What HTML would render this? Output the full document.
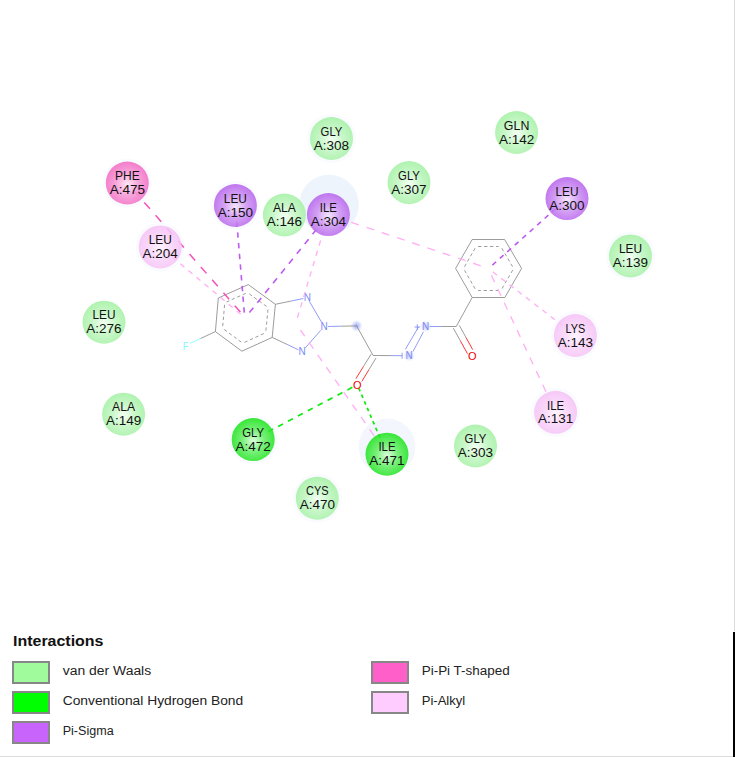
<!DOCTYPE html>
<html><head><meta charset="utf-8"><style>
html,body{margin:0;padding:0;background:#fff;}
svg{display:block;}
text{font-family:"Liberation Sans",sans-serif;}
</style></head><body>
<svg width="735" height="757" viewBox="0 0 735 757">
<defs>
<radialGradient id="g_vdw" cx="50%" cy="53%" r="52%"><stop offset="0" stop-color="#f2fff2"/><stop offset="0.5" stop-color="#c2f6c2"/><stop offset="1" stop-color="#a4f1a4"/></radialGradient>
<radialGradient id="g_hb" cx="50%" cy="53%" r="52%"><stop offset="0" stop-color="#d8ffd8"/><stop offset="0.5" stop-color="#65ee65"/><stop offset="1" stop-color="#1ee41e"/></radialGradient>
<radialGradient id="g_pisig" cx="50%" cy="53%" r="52%"><stop offset="0" stop-color="#f4e4fd"/><stop offset="0.5" stop-color="#cf95f2"/><stop offset="1" stop-color="#b865ec"/></radialGradient>
<radialGradient id="g_pipit" cx="50%" cy="53%" r="52%"><stop offset="0" stop-color="#ffe4f4"/><stop offset="0.5" stop-color="#f79ad6"/><stop offset="1" stop-color="#f26cc4"/></radialGradient>
<radialGradient id="g_pialk" cx="50%" cy="53%" r="52%"><stop offset="0" stop-color="#fff4ff"/><stop offset="0.5" stop-color="#f9d5f9"/><stop offset="1" stop-color="#f6c2f6"/></radialGradient>
<radialGradient id="glow"><stop offset="0" stop-color="#8f9cf5" stop-opacity="0.9"/><stop offset="1" stop-color="#aab4f8" stop-opacity="0"/></radialGradient>
<linearGradient id="ftext"></linearGradient>
</defs>
<rect x="0" y="0" width="735" height="757" fill="#fff"/>
<circle cx="329" cy="204.6" r="29.8" fill="#eef4fc"/>
<circle cx="387" cy="446.8" r="28.3" fill="#f3f6fd"/>
<circle cx="331.5" cy="138.5" r="24.5" fill="#fafbfe"/>
<circle cx="127.3" cy="183.0" r="24.5" fill="#fafbfe"/>
<circle cx="235.4" cy="205.5" r="24.5" fill="#fafbfe"/>
<circle cx="160.2" cy="246.9" r="24.5" fill="#fafbfe"/>
<circle cx="630.5" cy="255.9" r="24.5" fill="#fafbfe"/>
<circle cx="575.4" cy="335.5" r="24.5" fill="#fafbfe"/>
<circle cx="555.6" cy="412.3" r="24.5" fill="#fafbfe"/>
<circle cx="253.2" cy="439.6" r="24.5" fill="#fafbfe"/>
<circle cx="317.3" cy="498.2" r="24.5" fill="#fafbfe"/>
<g id="mol"><circle cx="356.6" cy="325.9" r="6" fill="url(#glow)"/><circle cx="409.2" cy="355.8" r="6" fill="url(#glow)" opacity="0.6"/><circle cx="425.7" cy="326.5" r="6" fill="url(#glow)" opacity="0.6"/><line x1="248.3" y1="284.6" x2="218.3" y2="298.0" stroke="#8a8a8a" stroke-width="0.85"/><line x1="218.3" y1="298.0" x2="215.4" y2="331.6" stroke="#8a8a8a" stroke-width="0.85"/><line x1="215.4" y1="331.6" x2="241.9" y2="351.2" stroke="#8a8a8a" stroke-width="0.85"/><line x1="241.9" y1="351.2" x2="272.2" y2="337.4" stroke="#8a8a8a" stroke-width="0.85"/><line x1="272.2" y1="337.4" x2="275.4" y2="304.3" stroke="#8a8a8a" stroke-width="0.85"/><line x1="275.4" y1="304.3" x2="248.3" y2="284.6" stroke="#8a8a8a" stroke-width="0.85"/><line x1="245.7" y1="293.4" x2="226.6" y2="301.9" stroke="#8a8a8a" stroke-width="0.85" stroke-dasharray="3.3 2.7"/><line x1="224.6" y1="304.8" x2="222.7" y2="326.3" stroke="#8a8a8a" stroke-width="0.85" stroke-dasharray="3.3 2.7"/><line x1="224.2" y1="329.5" x2="241.1" y2="342.0" stroke="#8a8a8a" stroke-width="0.85" stroke-dasharray="3.3 2.7"/><line x1="244.5" y1="342.4" x2="263.9" y2="333.5" stroke="#8a8a8a" stroke-width="0.85" stroke-dasharray="3.3 2.7"/><line x1="265.9" y1="330.7" x2="268.0" y2="309.5" stroke="#8a8a8a" stroke-width="0.85" stroke-dasharray="3.3 2.7"/><line x1="266.5" y1="306.4" x2="249.2" y2="293.8" stroke="#8a8a8a" stroke-width="0.85" stroke-dasharray="3.3 2.7"/><line x1="472.2" y1="239.5" x2="504.6" y2="239.5" stroke="#8a8a8a" stroke-width="0.85"/><line x1="504.6" y1="239.5" x2="521.6" y2="268.4" stroke="#8a8a8a" stroke-width="0.85"/><line x1="521.6" y1="268.4" x2="504.8" y2="297.5" stroke="#8a8a8a" stroke-width="0.85"/><line x1="504.8" y1="297.5" x2="472.2" y2="297.5" stroke="#8a8a8a" stroke-width="0.85"/><line x1="472.2" y1="297.5" x2="455.6" y2="268.4" stroke="#8a8a8a" stroke-width="0.85"/><line x1="455.6" y1="268.4" x2="472.2" y2="239.5" stroke="#8a8a8a" stroke-width="0.85"/><line x1="478.1" y1="246.5" x2="498.7" y2="246.5" stroke="#8a8a8a" stroke-width="0.85" stroke-dasharray="3.3 2.7"/><line x1="501.8" y1="248.2" x2="512.6" y2="266.7" stroke="#8a8a8a" stroke-width="0.85" stroke-dasharray="3.3 2.7"/><line x1="512.7" y1="270.1" x2="501.9" y2="288.8" stroke="#8a8a8a" stroke-width="0.85" stroke-dasharray="3.3 2.7"/><line x1="498.9" y1="290.5" x2="478.1" y2="290.5" stroke="#8a8a8a" stroke-width="0.85" stroke-dasharray="3.3 2.7"/><line x1="475.1" y1="288.8" x2="464.5" y2="270.2" stroke="#8a8a8a" stroke-width="0.85" stroke-dasharray="3.3 2.7"/><line x1="464.5" y1="266.7" x2="475.1" y2="248.2" stroke="#8a8a8a" stroke-width="0.85" stroke-dasharray="3.3 2.7"/><line x1="215.4" y1="331.6" x2="200.4" y2="338.6" stroke="#8a8a8a" stroke-width="0.85"/><line x1="200.4" y1="338.6" x2="190.0" y2="343.4" stroke="#80ffff" stroke-width="0.85"/><line x1="275.4" y1="304.3" x2="291.4" y2="301.0" stroke="#8a8a8a" stroke-width="0.85"/><line x1="291.4" y1="301.0" x2="303.4" y2="298.5" stroke="#7b8af5" stroke-width="0.85"/><line x1="309.3" y1="301.2" x2="321.6" y2="322.3" stroke="#7b8af5" stroke-width="0.85"/><line x1="320.8" y1="330.3" x2="305.3" y2="347.8" stroke="#7b8af5" stroke-width="0.85"/><line x1="298.4" y1="349.8" x2="287.1" y2="344.4" stroke="#7b8af5" stroke-width="0.85"/><line x1="287.1" y1="344.4" x2="272.2" y2="337.4" stroke="#8a8a8a" stroke-width="0.85"/><line x1="328.1" y1="326.5" x2="340.4" y2="326.2" stroke="#7b8af5" stroke-width="0.85"/><line x1="340.4" y1="326.2" x2="356.6" y2="325.9" stroke="#8a8a8a" stroke-width="0.85"/><line x1="356.6" y1="325.9" x2="373.1" y2="355.5" stroke="#8a8a8a" stroke-width="0.85"/><line x1="373.1" y1="355.5" x2="391.1" y2="355.6" stroke="#8a8a8a" stroke-width="0.85"/><line x1="391.1" y1="355.6" x2="402.2" y2="355.7" stroke="#7b8af5" stroke-width="0.85"/><line x1="429.7" y1="326.5" x2="440.9" y2="326.5" stroke="#7b8af5" stroke-width="0.85"/><line x1="440.9" y1="326.5" x2="456.2" y2="326.5" stroke="#8a8a8a" stroke-width="0.85"/><line x1="456.2" y1="326.5" x2="472.2" y2="297.5" stroke="#8a8a8a" stroke-width="0.85"/><line x1="371.1" y1="354.2" x2="363.5" y2="366.4" stroke="#8a8a8a" stroke-width="0.85"/><line x1="363.5" y1="366.4" x2="355.9" y2="378.7" stroke="#ff1010" stroke-width="0.85"/><line x1="376.0" y1="358.0" x2="368.9" y2="369.7" stroke="#8a8a8a" stroke-width="0.85"/><line x1="368.9" y1="369.7" x2="361.9" y2="381.4" stroke="#ff1010" stroke-width="0.85"/><line x1="453.3" y1="328.1" x2="460.4" y2="340.9" stroke="#8a8a8a" stroke-width="0.85"/><line x1="460.4" y1="340.9" x2="467.5" y2="353.7" stroke="#ff1010" stroke-width="0.85"/><line x1="459.3" y1="325.4" x2="466.0" y2="337.5" stroke="#8a8a8a" stroke-width="0.85"/><line x1="466.0" y1="337.5" x2="472.7" y2="349.6" stroke="#ff1010" stroke-width="0.85"/><line x1="405.4" y1="349.3" x2="418.5" y2="327.0" stroke="#7b8af5" stroke-width="0.85"/><line x1="413.0" y1="351.5" x2="423.4" y2="331.9" stroke="#7b8af5" stroke-width="0.85"/><line x1="402.1" y1="352.8" x2="402.1" y2="358.8" stroke="#7b8af5" stroke-width="0.85"/><line x1="414.5" y1="327.0" x2="420.0" y2="327.0" stroke="#7b8af5" stroke-width="0.85"/><line x1="417.3" y1="324.2" x2="417.3" y2="329.8" stroke="#7b8af5" stroke-width="0.85"/><text x="307.3" y="301.3" font-size="10" text-anchor="middle" fill="#7b8af5">N</text><text x="324.1" y="330.2" font-size="10" text-anchor="middle" fill="#7b8af5">N</text><text x="302.0" y="355.1" font-size="10" text-anchor="middle" fill="#7b8af5">N</text><text x="409.2" y="359.4" font-size="10" text-anchor="middle" fill="#7b8af5">N</text><text x="425.7" y="330.1" font-size="10" text-anchor="middle" fill="#7b8af5">N</text></g>
<line x1="240.4" y1="312.1" x2="127.3" y2="183.0" stroke="#f452ba" stroke-width="1.5" stroke-dasharray="8.58 8.58" stroke-dashoffset="0.00"/>
<line x1="240.7" y1="314.3" x2="160.2" y2="246.9" stroke="#ffb0f4" stroke-width="1.35" stroke-dasharray="5.25 5.25" stroke-dashoffset="0.00"/>
<line x1="244.3" y1="312.6" x2="235.4" y2="205.5" stroke="#bd5af0" stroke-width="1.6" stroke-dasharray="5.37 5.37" stroke-dashoffset="0.00"/>
<line x1="249.4" y1="312.6" x2="328.4" y2="214.6" stroke="#bd5af0" stroke-width="1.6" stroke-dasharray="6.29 6.29" stroke-dashoffset="0.00"/>
<line x1="297.4" y1="317.7" x2="328.4" y2="214.6" stroke="#ffb0f4" stroke-width="1.35" stroke-dasharray="5.38 5.38" stroke-dashoffset="0.00"/>
<line x1="480.8" y1="265.8" x2="328.4" y2="214.6" stroke="#ffb0f4" stroke-width="1.35" stroke-dasharray="8.04 8.04" stroke-dashoffset="0.00"/>
<line x1="300.4" y1="330.0" x2="387.0" y2="454.2" stroke="#ffb0f4" stroke-width="1.35" stroke-dasharray="7.57 7.57" stroke-dashoffset="0.00"/>
<line x1="492.4" y1="265.1" x2="567.0" y2="198.6" stroke="#bd5af0" stroke-width="1.6" stroke-dasharray="5.00 5.00" stroke-dashoffset="0.00"/>
<line x1="493.0" y1="272.0" x2="575.4" y2="335.5" stroke="#ffb0f4" stroke-width="1.35" stroke-dasharray="5.20 5.20" stroke-dashoffset="0.00"/>
<line x1="491.4" y1="275.3" x2="555.6" y2="412.3" stroke="#ffb0f4" stroke-width="1.35" stroke-dasharray="7.56 7.56" stroke-dashoffset="0.00"/>
<line x1="357.3" y1="384.7" x2="253.2" y2="439.6" stroke="#10ea10" stroke-width="1.7" stroke-dasharray="5.60 5.60" stroke-dashoffset="5.60"/>
<line x1="357.3" y1="384.7" x2="387.0" y2="454.2" stroke="#10ea10" stroke-width="1.7" stroke-dasharray="3.60 3.60" stroke-dashoffset="3.60"/>
<text x="357.2" y="389.0" font-size="11" text-anchor="middle" fill="#ee0000">O</text><text x="472.4" y="359.8" font-size="11" text-anchor="middle" fill="#ee0000">O</text><text x="185.5" y="349.5" font-size="11" text-anchor="middle" fill="#80f6ff" textLength="5.6" lengthAdjust="spacingAndGlyphs">F</text>
<circle cx="331.5" cy="138.5" r="21.5" fill="url(#g_vdw)" fill-opacity="0.88"/>
<text x="331.5" y="135.7" font-size="13" text-anchor="middle" fill="#111" textLength="21.83" lengthAdjust="spacingAndGlyphs">GLY</text>
<text x="331.5" y="149.6" font-size="13" text-anchor="middle" fill="#111" textLength="35.3" lengthAdjust="spacingAndGlyphs">A:308</text>
<circle cx="516.6" cy="132.5" r="21.5" fill="url(#g_vdw)" fill-opacity="0.88"/>
<text x="516.6" y="129.7" font-size="13" text-anchor="middle" fill="#111" textLength="25.5" lengthAdjust="spacingAndGlyphs">GLN</text>
<text x="516.6" y="143.6" font-size="13" text-anchor="middle" fill="#111" textLength="35.3" lengthAdjust="spacingAndGlyphs">A:142</text>
<circle cx="127.3" cy="183.0" r="21.5" fill="url(#g_pipit)" fill-opacity="0.88"/>
<text x="127.3" y="180.2" font-size="13" text-anchor="middle" fill="#111" textLength="24.71" lengthAdjust="spacingAndGlyphs">PHE</text>
<text x="127.3" y="194.1" font-size="13" text-anchor="middle" fill="#111" textLength="35.3" lengthAdjust="spacingAndGlyphs">A:475</text>
<circle cx="409.0" cy="182.6" r="21.5" fill="url(#g_vdw)" fill-opacity="0.88"/>
<text x="409.0" y="179.8" font-size="13" text-anchor="middle" fill="#111" textLength="21.83" lengthAdjust="spacingAndGlyphs">GLY</text>
<text x="409.0" y="193.7" font-size="13" text-anchor="middle" fill="#111" textLength="35.3" lengthAdjust="spacingAndGlyphs">A:307</text>
<circle cx="235.4" cy="205.5" r="21.5" fill="url(#g_pisig)" fill-opacity="0.88"/>
<text x="235.4" y="202.7" font-size="13" text-anchor="middle" fill="#111" textLength="23.06" lengthAdjust="spacingAndGlyphs">LEU</text>
<text x="235.4" y="216.6" font-size="13" text-anchor="middle" fill="#111" textLength="35.3" lengthAdjust="spacingAndGlyphs">A:150</text>
<circle cx="284.4" cy="215.0" r="21.5" fill="url(#g_vdw)" fill-opacity="0.88"/>
<text x="284.4" y="212.2" font-size="13" text-anchor="middle" fill="#111" textLength="22.97" lengthAdjust="spacingAndGlyphs">ALA</text>
<text x="284.4" y="226.1" font-size="13" text-anchor="middle" fill="#111" textLength="35.3" lengthAdjust="spacingAndGlyphs">A:146</text>
<circle cx="328.4" cy="214.6" r="21.5" fill="url(#g_pisig)" fill-opacity="0.88"/>
<text x="328.4" y="211.8" font-size="13" text-anchor="middle" fill="#111" textLength="17.15" lengthAdjust="spacingAndGlyphs">ILE</text>
<text x="328.4" y="225.7" font-size="13" text-anchor="middle" fill="#111" textLength="35.3" lengthAdjust="spacingAndGlyphs">A:304</text>
<circle cx="567.0" cy="198.6" r="21.5" fill="url(#g_pisig)" fill-opacity="0.88"/>
<text x="567.0" y="195.8" font-size="13" text-anchor="middle" fill="#111" textLength="23.06" lengthAdjust="spacingAndGlyphs">LEU</text>
<text x="567.0" y="209.7" font-size="13" text-anchor="middle" fill="#111" textLength="35.3" lengthAdjust="spacingAndGlyphs">A:300</text>
<circle cx="160.2" cy="246.9" r="21.5" fill="url(#g_pialk)" fill-opacity="0.88"/>
<text x="160.2" y="244.1" font-size="13" text-anchor="middle" fill="#111" textLength="23.06" lengthAdjust="spacingAndGlyphs">LEU</text>
<text x="160.2" y="258.0" font-size="13" text-anchor="middle" fill="#111" textLength="35.3" lengthAdjust="spacingAndGlyphs">A:204</text>
<circle cx="630.5" cy="255.9" r="21.5" fill="url(#g_vdw)" fill-opacity="0.88"/>
<text x="630.5" y="253.1" font-size="13" text-anchor="middle" fill="#111" textLength="23.06" lengthAdjust="spacingAndGlyphs">LEU</text>
<text x="630.5" y="267.0" font-size="13" text-anchor="middle" fill="#111" textLength="35.3" lengthAdjust="spacingAndGlyphs">A:139</text>
<circle cx="104.0" cy="322.2" r="21.5" fill="url(#g_vdw)" fill-opacity="0.88"/>
<text x="104.0" y="319.4" font-size="13" text-anchor="middle" fill="#111" textLength="23.06" lengthAdjust="spacingAndGlyphs">LEU</text>
<text x="104.0" y="333.3" font-size="13" text-anchor="middle" fill="#111" textLength="35.3" lengthAdjust="spacingAndGlyphs">A:276</text>
<circle cx="575.4" cy="335.5" r="21.5" fill="url(#g_pialk)" fill-opacity="0.88"/>
<text x="575.4" y="332.7" font-size="13" text-anchor="middle" fill="#111" textLength="19.68" lengthAdjust="spacingAndGlyphs">LYS</text>
<text x="575.4" y="346.6" font-size="13" text-anchor="middle" fill="#111" textLength="35.3" lengthAdjust="spacingAndGlyphs">A:143</text>
<circle cx="123.6" cy="414.2" r="21.5" fill="url(#g_vdw)" fill-opacity="0.88"/>
<text x="123.6" y="411.4" font-size="13" text-anchor="middle" fill="#111" textLength="22.97" lengthAdjust="spacingAndGlyphs">ALA</text>
<text x="123.6" y="425.3" font-size="13" text-anchor="middle" fill="#111" textLength="35.3" lengthAdjust="spacingAndGlyphs">A:149</text>
<circle cx="555.6" cy="412.3" r="21.5" fill="url(#g_pialk)" fill-opacity="0.88"/>
<text x="555.6" y="409.5" font-size="13" text-anchor="middle" fill="#111" textLength="17.15" lengthAdjust="spacingAndGlyphs">ILE</text>
<text x="555.6" y="423.4" font-size="13" text-anchor="middle" fill="#111" textLength="35.3" lengthAdjust="spacingAndGlyphs">A:131</text>
<circle cx="253.2" cy="439.6" r="21.5" fill="url(#g_hb)" fill-opacity="0.88"/>
<text x="253.2" y="436.8" font-size="13" text-anchor="middle" fill="#111" textLength="21.83" lengthAdjust="spacingAndGlyphs">GLY</text>
<text x="253.2" y="450.7" font-size="13" text-anchor="middle" fill="#111" textLength="35.3" lengthAdjust="spacingAndGlyphs">A:472</text>
<circle cx="387.0" cy="454.2" r="21.5" fill="url(#g_hb)" fill-opacity="0.88"/>
<text x="387.0" y="451.4" font-size="13" text-anchor="middle" fill="#111" textLength="17.15" lengthAdjust="spacingAndGlyphs">ILE</text>
<text x="387.0" y="465.3" font-size="13" text-anchor="middle" fill="#111" textLength="35.3" lengthAdjust="spacingAndGlyphs">A:471</text>
<circle cx="475.5" cy="446.0" r="21.5" fill="url(#g_vdw)" fill-opacity="0.88"/>
<text x="475.5" y="443.2" font-size="13" text-anchor="middle" fill="#111" textLength="21.83" lengthAdjust="spacingAndGlyphs">GLY</text>
<text x="475.5" y="457.1" font-size="13" text-anchor="middle" fill="#111" textLength="35.3" lengthAdjust="spacingAndGlyphs">A:303</text>
<circle cx="317.3" cy="498.2" r="21.5" fill="url(#g_vdw)" fill-opacity="0.88"/>
<text x="317.3" y="495.4" font-size="13" text-anchor="middle" fill="#111" textLength="22.58" lengthAdjust="spacingAndGlyphs">CYS</text>
<text x="317.3" y="509.3" font-size="13" text-anchor="middle" fill="#111" textLength="35.3" lengthAdjust="spacingAndGlyphs">A:470</text>
<text x="13" y="646" font-size="14" font-weight="bold" fill="#111" textLength="90.5" lengthAdjust="spacingAndGlyphs">Interactions</text>
<rect x="13" y="662" width="36" height="21" fill="#9ffb9c" stroke="#878787" stroke-width="2"/>
<text x="62.7" y="674.6" font-size="13.7" fill="#222" textLength="88.5" lengthAdjust="spacingAndGlyphs">van der Waals</text>
<rect x="13" y="692" width="36" height="21" fill="#00ff00" stroke="#878787" stroke-width="2"/>
<text x="62.7" y="704.6" font-size="13.7" fill="#222" textLength="180.5" lengthAdjust="spacingAndGlyphs">Conventional Hydrogen Bond</text>
<rect x="13" y="722" width="36" height="21" fill="#c864fb" stroke="#878787" stroke-width="2"/>
<text x="62.7" y="734.6" font-size="13.7" fill="#222" textLength="51" lengthAdjust="spacingAndGlyphs">Pi-Sigma</text>
<rect x="372" y="662" width="36" height="21" fill="#ff5fc8" stroke="#878787" stroke-width="2"/>
<text x="421.7" y="674.6" font-size="13.7" fill="#222" textLength="88" lengthAdjust="spacingAndGlyphs">Pi-Pi T-shaped</text>
<rect x="372" y="692" width="36" height="21" fill="#ffccff" stroke="#878787" stroke-width="2"/>
<text x="421.7" y="704.6" font-size="13.7" fill="#222" textLength="43.5" lengthAdjust="spacingAndGlyphs">Pi-Alkyl</text>
<rect x="734" y="0" width="1" height="631" fill="#dcdcdc"/>
<rect x="733" y="632" width="2" height="125" fill="#000"/>
<rect x="0" y="756" width="733" height="1" fill="#dcdcdc"/>
</svg></body></html>
